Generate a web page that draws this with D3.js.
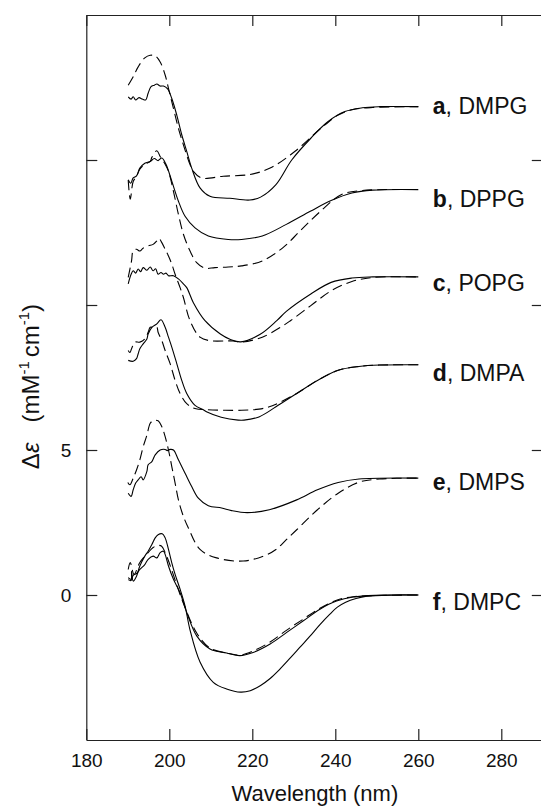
<!DOCTYPE html>
<html>
<head>
<meta charset="utf-8">
<script src="https://cdn.jsdelivr.net/npm/d3@7"></script>
<style>
    body { margin: 0; background: #fff; }
    svg { display: block; font-family: "Liberation Sans", Arial, sans-serif; }
    .axis path, .axis line { stroke: #222; stroke-width: 1.2; }
    .axis text { font-size: 19px; fill: #111; }
    .trace { fill: none; stroke: #000; stroke-width: 1.1; }
</style>
</head>
<body>
<div id="cd-chart"></div>
<script>

// tick values
let xTicks = [180, 200, 220, 240, 260, 280];
let yTicks = [0, 5, 10, 15];
let yLabelled = [0, 5];

// panel labels, top to bottom
let letters = ["a", "b", "c", "d", "e", "f"];
let lipids = ["DMPG", "DPPG", "POPG", "DMPA", "DMPS", "DMPC"];
let labelLevels = [16.85, 13.65, 10.75, 7.64, 3.91, -0.24];

// spectra as plotted (offset included): [wavelength nm, delta eps]
let aSolid = [[190.1,17.18],[190.8,17.10],[191.3,17.18],[191.9,17.07],[192.7,17.15],[193.5,17.10],[194.3,17.07],[194.9,17.30],[195.6,17.53],[196.4,17.58],[197.0,17.62],[197.8,17.55],[198.6,17.55],[199.6,17.45],[200.6,17.12],[201.8,16.55],[203.0,15.87],[204.2,15.30],[205.4,14.72],[207.4,14.04],[209.8,13.75],[214.6,13.68],[219.4,13.62],[222.0,13.72],[225.7,14.15],[229.5,15.0],[234.1,15.75],[238.2,16.32],[242.3,16.67],[246.5,16.80],[250.7,16.84],[260,16.84]];
let aDashed = [[190.1,17.58],[191.3,17.87],[192.5,18.21],[194.1,18.52],[195.4,18.61],[196.6,18.59],[197.8,18.38],[199.0,17.93],[199.8,17.47],[201.0,16.78],[202.2,16.09],[203.4,15.52],[205.0,14.84],[205.8,14.61],[207.8,14.38],[213.0,14.44],[219.4,14.50],[224.3,14.72],[230.3,15.3],[236.5,16.09],[240.7,16.55],[244.0,16.73],[249.0,16.81],[260,16.84]];

let bSolid = [[190.1,14.32],[190.7,14.2],[191.3,14.38],[192.1,14.45],[192.9,14.72],[194.1,14.89],[195.4,14.95],[196.4,15.05],[197.3,14.98],[198.2,15.07],[199.2,14.85],[200.6,14.27],[202.2,13.58],[203.8,13.06],[206.2,12.66],[209.4,12.38],[214.2,12.26],[217.4,12.26],[222.4,12.38],[228.2,12.78],[234.1,13.24],[239.0,13.60],[244.0,13.86],[249.0,13.96],[260,13.98]];
let bDashed = [[190.1,14.3],[190.6,13.65],[191.3,14.26],[192.1,14.43],[192.9,14.68],[194.1,14.85],[195.4,14.95],[195.8,15.09],[197.0,15.32],[197.8,15.12],[199.0,14.85],[199.8,14.61],[201.0,13.92],[202.2,13.12],[203.4,12.44],[205.0,11.86],[206.6,11.46],[208.6,11.27],[211.0,11.29],[214.2,11.31],[217.4,11.35],[222.4,11.52],[227.4,11.98],[231.5,12.55],[236.5,13.24],[241.5,13.81],[246.5,13.95],[260,13.98]];

let cSolid = [[190.1,10.73],[190.8,11.06],[191.3,11.18],[191.9,11.10],[192.5,11.24],[193.1,11.15],[193.7,11.29],[194.6,11.20],[195.4,11.31],[196.1,11.18],[196.7,11.25],[197.3,11.06],[198.0,11.12],[198.6,11.06],[199.2,11.10],[199.8,11.01],[201.0,11.01],[202.2,10.90],[203.4,10.73],[204.2,10.60],[205.8,10.08],[208.6,9.46],[212.3,9.0],[214.6,8.82],[217.2,8.73],[221.8,8.98],[225.9,9.46],[228.2,9.78],[234.1,10.38],[239.0,10.78],[244.0,10.93],[249.0,10.97],[260,10.97]];
let cDashed = [[190.1,10.95],[190.9,11.52],[191.3,11.87],[192.1,11.92],[192.9,11.86],[193.7,11.96],[194.9,12.04],[196.1,12.09],[197.0,12.21],[197.5,12.30],[198.2,12.15],[199.0,11.92],[199.8,11.69],[200.6,11.41],[201.4,11.06],[202.6,10.60],[203.4,10.26],[205.0,9.46],[207.4,8.89],[209.8,8.77],[215.4,8.76],[217.4,8.72],[222.4,8.89],[227.0,9.25],[229.1,9.45],[234.1,9.98],[239.0,10.49],[244.0,10.81],[249.0,10.95],[260,10.97]];

let dSolid = [[190.1,8.09],[191.3,8.06],[192.1,8.15],[192.5,8.32],[192.9,8.49],[193.7,8.66],[194.6,8.83],[194.9,9.00],[195.8,9.23],[197.0,9.35],[198.0,9.49],[199.0,9.23],[199.8,8.89],[200.6,8.55],[201.8,7.98],[203.0,7.40],[204.2,6.95],[206.2,6.54],[208.2,6.39],[209.1,6.31],[212.5,6.13],[216.6,6.03],[218.0,6.03],[221.6,6.14],[225.7,6.49],[230.7,6.95],[235.7,7.40],[240.7,7.75],[245.7,7.88],[250.7,7.93],[260,7.94]];
let dDashed = [[190.1,8.43],[190.5,8.36],[190.9,8.49],[191.7,8.72],[192.9,8.72],[194.1,8.83],[194.9,9.06],[195.4,9.23],[196.1,9.23],[197.0,9.23],[197.3,9.06],[198.2,8.77],[199.0,8.43],[200.2,7.98],[201.4,7.40],[202.6,6.95],[204.2,6.60],[206.2,6.43],[209.0,6.39],[217.4,6.37],[221.6,6.41],[224.1,6.49],[225.7,6.58],[230.7,6.95],[235.7,7.40],[240.7,7.75],[245.7,7.88],[250.7,7.93],[260,7.94]];

let eSolid = [[190.1,3.51],[190.8,3.40],[191.3,3.63],[191.9,3.86],[192.5,3.97],[193.2,4.08],[193.7,3.97],[194.6,4.26],[194.9,4.49],[195.8,4.60],[196.6,4.83],[197.8,5.00],[199.0,5.02],[199.5,4.98],[200.2,5.02],[201.0,5.00],[202.2,4.66],[203.8,4.20],[205.4,3.74],[207.0,3.34],[209.4,3.08],[212.6,3.00],[215.0,2.91],[218.8,2.84],[224.1,2.94],[230.7,3.28],[235.7,3.63],[240.7,3.88],[245.7,4.00],[260,4.03]];
let eDashed = [[190.0,3.88],[190.5,3.80],[191.3,4.03],[192.1,4.31],[192.9,4.66],[193.7,5.11],[194.6,5.51],[195.4,5.92],[196.1,6.01],[197.3,6.01],[198.2,5.80],[199.0,5.46],[199.8,5.00],[200.6,4.43],[201.4,3.86],[202.2,3.28],[203.4,2.71],[204.6,2.31],[207.4,1.57],[211.4,1.28],[217.8,1.17],[222.7,1.34],[225.7,1.57],[228.2,1.91],[230.7,2.25],[235.7,2.94],[240.7,3.51],[245.7,3.89],[250.7,4.00],[260,4.03]];

let fSolidDeep = [[190.1,0.60],[190.8,0.54],[190.9,0.82],[191.3,0.48],[192.1,0.65],[192.9,1.00],[194.1,1.34],[194.9,1.51],[195.8,1.74],[196.6,1.97],[197.3,2.08],[198.3,2.11],[199.0,1.97],[199.8,1.57],[200.6,1.11],[201.4,0.71],[202.6,0.20],[203.8,-0.38],[205.0,-1.21],[207.4,-2.31],[210.6,-3.01],[213.8,-3.24],[217.2,-3.35],[219.5,-3.30],[222.0,-3.12],[224.3,-2.88],[226.5,-2.58],[229.1,-2.18],[231.5,-1.80],[233.9,-1.42],[236.3,-1.02],[238.7,-0.66],[240.5,-0.42],[242.5,-0.25],[245.0,-0.12],[247.6,-0.04],[254,0],[260,0]];
let fSolid = [[190.1,0.53],[190.8,0.50],[191.3,0.68],[192.1,0.74],[192.9,0.88],[194.1,1.05],[194.9,1.23],[196.1,1.34],[197.0,1.28],[197.8,1.46],[198.6,1.51],[199.0,1.40],[199.8,1.00],[201.0,0.54],[202.6,0.08],[204.2,-0.60],[206.6,-1.41],[209.8,-1.86],[213.8,-2.00],[217.0,-2.09],[220.2,-1.98],[224.3,-1.69],[228.3,-1.29],[232.3,-0.89],[236.3,-0.49],[240.3,-0.21],[244.3,-0.07],[250.0,-0.01],[260,0]];
let fDashed = [[190.1,0.88],[190.6,1.12],[191.5,0.71],[192.9,1.12],[194.9,1.46],[196.1,1.64],[197.3,1.71],[198.1,1.69],[199.0,1.47],[200.2,1.02],[201.6,0.43],[203.3,-0.25],[206.6,-1.31],[209.8,-1.83],[213.8,-2.00],[217.0,-2.07],[220.2,-1.93],[224.3,-1.62],[228.3,-1.21],[232.3,-0.83],[236.3,-0.46],[240.3,-0.18],[244.3,-0.06],[260,0]];


class cdVis {

    constructor(parentElement) {
        this.parentElement = parentElement;
        this.initVis();
    }

    initVis() {
        let vis = this;

        vis.margin = { top: 15, right: 0, bottom: 67, left: 86.3 };
        vis.width = 456.5;
        vis.height = 725;

        vis.svg = d3.select("#" + vis.parentElement).append("svg")
            .attr("width", 541)
            .attr("height", 807)
            .append("g")
            .attr("transform", `translate(${vis.margin.left}, ${vis.margin.top})`);

        vis.x = d3.scaleLinear().domain([180, 290]).range([0, vis.width]);
        vis.y = d3.scaleLinear().domain([-5, 20]).range([vis.height, 0]);

        // frame with inward ticks on all four sides
        vis.svg.append("g")
            .attr("class", "axis x-axis")
            .attr("transform", `translate(0, ${vis.height})`)
            .call(d3.axisBottom(vis.x).tickValues(xTicks).tickSizeInner(-11).tickSizeOuter(0).tickPadding(14));

        vis.svg.append("g")
            .attr("class", "axis")
            .call(d3.axisTop(vis.x).tickValues(xTicks).tickSizeInner(-11).tickSizeOuter(0).tickFormat(""));

        vis.svg.append("g")
            .attr("class", "axis y-axis")
            .call(d3.axisLeft(vis.y).tickValues(yTicks).tickSizeInner(-11).tickSizeOuter(0).tickPadding(15)
                .tickFormat(d => yLabelled.includes(d) ? d : ""));

        vis.svg.append("g")
            .attr("class", "axis")
            .attr("transform", `translate(${vis.width}, 0)`)
            .call(d3.axisRight(vis.y).tickValues(yTicks).tickSizeInner(-11).tickSizeOuter(0).tickFormat(""));

        // axis titles
        vis.svg.append("text")
            .attr("x", 228.6)
            .attr("y", 786)
            .attr("text-anchor", "middle")
            .attr("font-size", 22)
            .attr("fill", "#111")
            .text("Wavelength (nm)");

        let yTitle = vis.svg.append("text")
            .attr("transform", `translate(-47, 371.5) rotate(-90)`)
            .attr("text-anchor", "middle")
            .attr("font-size", 24)
            .attr("fill", "#111");
        yTitle.append("tspan").text("Δ");
        yTitle.append("tspan").attr("font-style", "italic").text("ε");
        yTitle.append("tspan").attr("dx", 20).text("(mM");
        yTitle.append("tspan").attr("font-size", 15).attr("dy", -10).text("-1");
        yTitle.append("tspan").attr("dy", 10).attr("dx", 4).text("cm");
        yTitle.append("tspan").attr("font-size", 15).attr("dy", -10).text("-1");
        yTitle.append("tspan").attr("dy", 10).text(")");

        vis.line = d3.line()
            .x(d => vis.x(d[0]))
            .y(d => vis.y(d[1]))
            .curve(d3.curveCatmullRom.alpha(0.5));

        vis.wrangleData();
    }

    wrangleData() {
        let vis = this;

        vis.traces = [
            { values: aSolid, dashed: false, width: 1.1 },
            { values: aDashed, dashed: true, width: 1.1 },
            { values: bSolid, dashed: false, width: 1.1 },
            { values: bDashed, dashed: true, width: 1.1 },
            { values: cSolid, dashed: false, width: 1.3 },
            { values: cDashed, dashed: true, width: 1.1 },
            { values: dSolid, dashed: false, width: 1.1 },
            { values: dDashed, dashed: true, width: 1.1 },
            { values: eSolid, dashed: false, width: 1.1 },
            { values: eDashed, dashed: true, width: 1.1 },
            { values: fSolidDeep, dashed: false, width: 1.7 },
            { values: fSolid, dashed: false, width: 1.1 },
            { values: fDashed, dashed: true, width: 1.1 }
        ];

        vis.labels = letters.map((l, i) => ({ letter: l, lipid: lipids[i], level: labelLevels[i] }));

        vis.updateVis();
    }

    updateVis() {
        let vis = this;

        vis.svg.selectAll(".trace")
            .data(vis.traces)
            .join("path")
            .attr("class", "trace")
            .attr("d", d => vis.line(d.values))
            .attr("stroke-width", d => d.width)
            .attr("stroke-dasharray", d => d.dashed ? "10,5" : null);

        let lab = vis.svg.selectAll(".panel-label")
            .data(vis.labels)
            .join("text")
            .attr("class", "panel-label")
            .attr("x", vis.x(263.5))
            .attr("y", d => vis.y(d.level) + 8)
            .attr("font-size", 23)
            .attr("fill", "#111");
        lab.append("tspan").attr("font-weight", "bold").text(d => d.letter);
        lab.append("tspan").text(d => ", " + d.lipid);
    }
}

new cdVis("cd-chart");

</script>
</body>
</html>
